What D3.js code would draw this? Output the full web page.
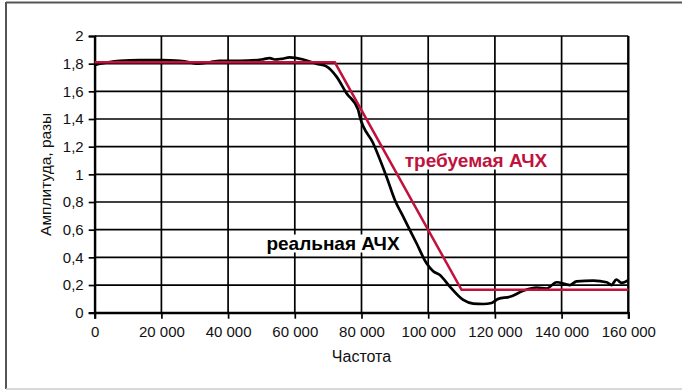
<!DOCTYPE html>
<html>
<head>
<meta charset="utf-8">
<script src="https://cdn.jsdelivr.net/npm/d3@7"></script>
<style>
  body { margin: 0; background: #fff; }
  text { font-family: "Liberation Sans", Arial, sans-serif; }
</style>
</head>
<body>
<script>
// Axis ticks
const xTicks = [0, 20000, 40000, 60000, 80000, 100000, 120000, 140000, 160000]
const yTicks = [0, 0.2, 0.4, 0.6, 0.8, 1, 1.2, 1.4, 1.6, 1.8, 2]

// Required response (red)
const reqFreq = [0, 72000, 110000, 160000]
const reqAmp  = [1.81, 1.81, 0.165, 0.165]

// Real response (black)
const realFreq = [0, 1600, 4000, 7500, 13500, 20000, 25500, 28500, 30500, 34500, 37500, 43500,
                  50000, 52500, 54000, 56000, 58500, 62500, 66500, 69500, 72500, 75500, 79000, 79500,
                  83500, 87500, 90000, 92500, 96500, 99500, 101500, 103500, 106500, 110500, 113500, 116500,
                  119000, 121000, 124500, 128500, 132500, 135500, 138500, 142500, 144500, 149500, 153500,
                  155000, 156400, 158000, 160000]
const realAmp  = [1.79, 1.80, 1.81, 1.82, 1.825, 1.825, 1.82, 1.81, 1.80, 1.81, 1.82, 1.82,
                  1.83, 1.84, 1.83, 1.835, 1.845, 1.83, 1.80, 1.78, 1.706, 1.586, 1.466, 1.417,
                  1.225, 0.983, 0.815, 0.694, 0.502, 0.357, 0.30, 0.273, 0.188, 0.092, 0.066, 0.063,
                  0.07, 0.10, 0.115, 0.158, 0.182, 0.175, 0.22, 0.20, 0.227, 0.232, 0.22,
                  0.20, 0.24, 0.215, 0.235]

const width = 682, height = 390
const margin = {left: 94.7, right: 53.7, top: 36, bottom: 77.3}

const svg = d3.select('body').append('svg')
              .attr('width', width).attr('height', height)

// Outer frame (top, left, bottom only)
svg.append('line').attr('x1', 6).attr('x2', width).attr('y1', 2.5).attr('y2', 2.5)
   .attr('stroke', '#555').attr('stroke-width', 2)
svg.append('line').attr('x1', 6).attr('x2', 6).attr('y1', 2).attr('y2', 389)
   .attr('stroke', '#555').attr('stroke-width', 2)
svg.append('line').attr('x1', 6).attr('x2', width).attr('y1', 389).attr('y2', 389)
   .attr('stroke', '#ccc').attr('stroke-width', 1.5)

const x = d3.scaleLinear().domain([0, 160000]).range([margin.left, width - margin.right])
const y = d3.scaleLinear().domain([0, 2]).range([height - margin.bottom, margin.top])

const fmtX = d => d3.format(',')(d).replace(/,/g, ' ')
const fmtY = d => String(d).replace('.', ',')

// Grid
const grid = svg.append('g')
grid.selectAll('.vg').data(xTicks).enter().append('line')
    .attr('x1', d => x(d)).attr('x2', d => x(d))
    .attr('y1', y(0)).attr('y2', y(2))
    .attr('stroke', '#000').attr('stroke-width', 1.7)
grid.selectAll('.hg').data(yTicks).enter().append('line')
    .attr('x1', x(0)).attr('x2', x(160000))
    .attr('y1', d => y(d)).attr('y2', d => y(d))
    .attr('stroke', '#000').attr('stroke-width', 1.7)
// Right border a bit heavier
grid.append('line').attr('x1', x(160000)).attr('x2', x(160000))
    .attr('y1', y(0)).attr('y2', y(2)).attr('stroke', '#000').attr('stroke-width', 2.2)

// Axes
const xAxis = svg.append('g').attr('transform', `translate(0,${y(0)})`)
    .call(d3.axisBottom(x).tickValues(xTicks).tickFormat(fmtX).tickSize(6).tickPadding(8))
const yAxis = svg.append('g').attr('transform', `translate(${x(0)},0)`)
    .call(d3.axisLeft(y).tickValues(yTicks).tickFormat(fmtY).tickSize(6).tickPadding(5))
for (const ax of [xAxis, yAxis]) {
  ax.select('.domain').attr('stroke', '#000').attr('stroke-width', 2.2)
  ax.selectAll('.tick line').attr('stroke', '#000').attr('stroke-width', 1.7)
  ax.selectAll('.tick text').attr('fill', '#111')
    .style('font-family', '"Liberation Sans", Arial, sans-serif').style('font-size', '15px')
}

// Lines
const line = d3.line().x(d => x(d[0])).y(d => y(d[1])).curve(d3.curveMonotoneX)
svg.append('path').datum(d3.zip(realFreq, realAmp))
   .attr('d', line).attr('fill', 'none').attr('stroke', '#000').attr('stroke-width', 2.7)
svg.append('path').datum(d3.zip(reqFreq, reqAmp))
   .attr('d', d3.line().x(d => x(d[0])).y(d => y(d[1])))
   .attr('fill', 'none').attr('stroke', '#c0123c').attr('stroke-width', 2.5)

// Labels with white backing
function label(txt, cx, cy, color) {
  const g = svg.append('g')
  const t = g.append('text').attr('x', cx).attr('y', cy).attr('text-anchor', 'middle')
             .attr('dominant-baseline', 'central')
             .attr('font-size', 19).attr('font-weight', 'bold').attr('fill', color).text(txt)
  const b = t.node().getBBox()
  g.insert('rect', 'text').attr('x', b.x - 3).attr('y', b.y + 2).attr('width', b.width + 6)
   .attr('height', b.height - 3).attr('fill', '#fff')
}
label('требуемая АЧХ', 476, 160, '#c0123c')
label('реальная АЧХ', 333, 243, '#000')

// Axis titles
svg.append('text').attr('x', x(80000)).attr('y', 362).attr('text-anchor', 'middle')
   .attr('font-size', 16).attr('fill', '#111').text('Частота')
svg.append('text').attr('transform', `translate(51,${y(1)}) rotate(-90)`)
   .attr('text-anchor', 'middle').attr('font-size', 15.5).attr('fill', '#111').text('Амплитуда, разы')
</script>
</body>
</html>
